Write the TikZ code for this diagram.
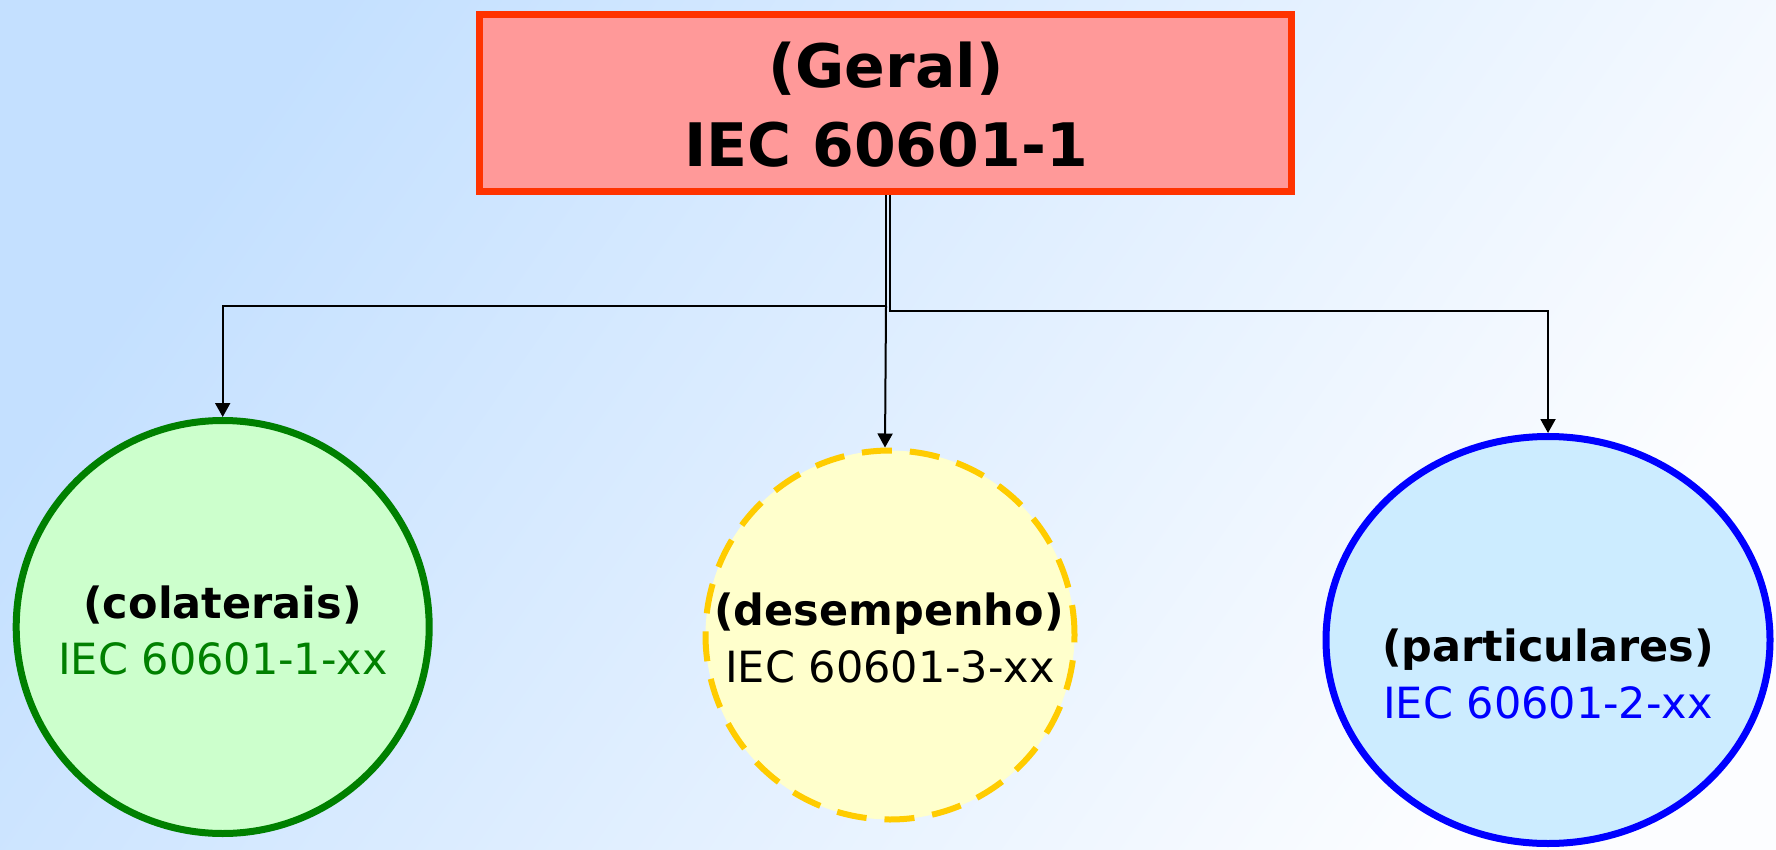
\documentclass[tikz,border=0pt]{standalone}
\usepackage{fontspec}
\setmainfont{DejaVu Sans}
\usetikzlibrary{shapes.geometric,arrows.meta}

\definecolor{bgA}{HTML}{C4E0FF}
\definecolor{bgB}{HTML}{FCFDFF}
\definecolor{boxfill}{HTML}{FF9999}
\definecolor{boxline}{HTML}{FF3300}
\definecolor{grline}{HTML}{008000}
\definecolor{grfill}{HTML}{CCFFCC}
\definecolor{yeline}{HTML}{FFCC00}
\definecolor{yefill}{HTML}{FFFFCC}
\definecolor{blline}{HTML}{0000FF}
\definecolor{blfill}{HTML}{CCECFF}

\tikzset{
  mainbox/.style={draw=boxline, fill=boxfill, line width=3.5pt, inner sep=0pt,
    minimum width=406pt, minimum height=88.5pt},
  greencirc/.style={circle, draw=grline, fill=grfill, line width=3.5pt, inner sep=0pt,
    minimum size=206.5pt},
  yellowcirc/.style={circle, draw=yeline, fill=yefill, line width=3pt, inner sep=0pt,
    minimum size=184.5pt, dash pattern=on 15pt off 9pt},
  blueell/.style={ellipse, draw=blline, fill=blfill, line width=3.5pt, inner sep=0pt,
    minimum width=222pt, minimum height=203.5pt},
  titletxt/.style={anchor=base, inner sep=0pt, font=\fontsize{30}{36}\selectfont\bfseries},
  headtxt/.style={anchor=base, inner sep=0pt, font=\fontsize{21.5}{26}\selectfont\bfseries},
  codetxt/.style={anchor=base, inner sep=0pt, font=\fontsize{21.5}{26}\selectfont},
  conn/.style={draw=black, line width=1pt, -{Triangle[width=7.5pt,length=7pt]}}
}

\begin{document}
\begin{tikzpicture}[x=0.5pt, y=-0.5pt]
  % background
  \shade[top color=bgA, bottom color=bgB, shading angle=55] (0,0) rectangle (1776,850);
  \useasboundingbox (0,0) rectangle (1776,850);

  % general standard box
  \node[mainbox] (geral) at (885.5,103) {};
  \node[titletxt] (geralA) at (886,88) {(Geral)};
  \node[titletxt] (geralB) at (886,166.5) {IEC 60601-1};

  % three families of standards
  \node[greencirc] (col) at (222.7,627) {};
  \node[yellowcirc] (des) at (890,635) {};
  \node[blueell] (par) at (1548,640) {};

  \node[headtxt] (colA) at (222.5,618) {(colaterais)};
  \node[codetxt, text=grline] (colB) at (223,674) {IEC 60601-1-xx};

  \node[headtxt] (desA) at (889,625) {(desempenho)};
  \node[codetxt] (desB) at (890,682) {IEC 60601-3-xx};

  \node[headtxt] (parA) at (1548,661) {(particulares)};
  \node[codetxt, text=blline] (parB) at (1548,718) {IEC 60601-2-xx};

  % connectors
  \coordinate (jl) at (886,306);
  \coordinate (jr) at (890,311);
  \draw[conn] (geral.south -| jl) -- (jl) -| (col.north);
  \draw[conn] (geral.south -| jr) -- (jr) -| (par.north);
  \draw[conn] (jl) -- ([xshift=-2.5pt]des.north);
\end{tikzpicture}
\end{document}
